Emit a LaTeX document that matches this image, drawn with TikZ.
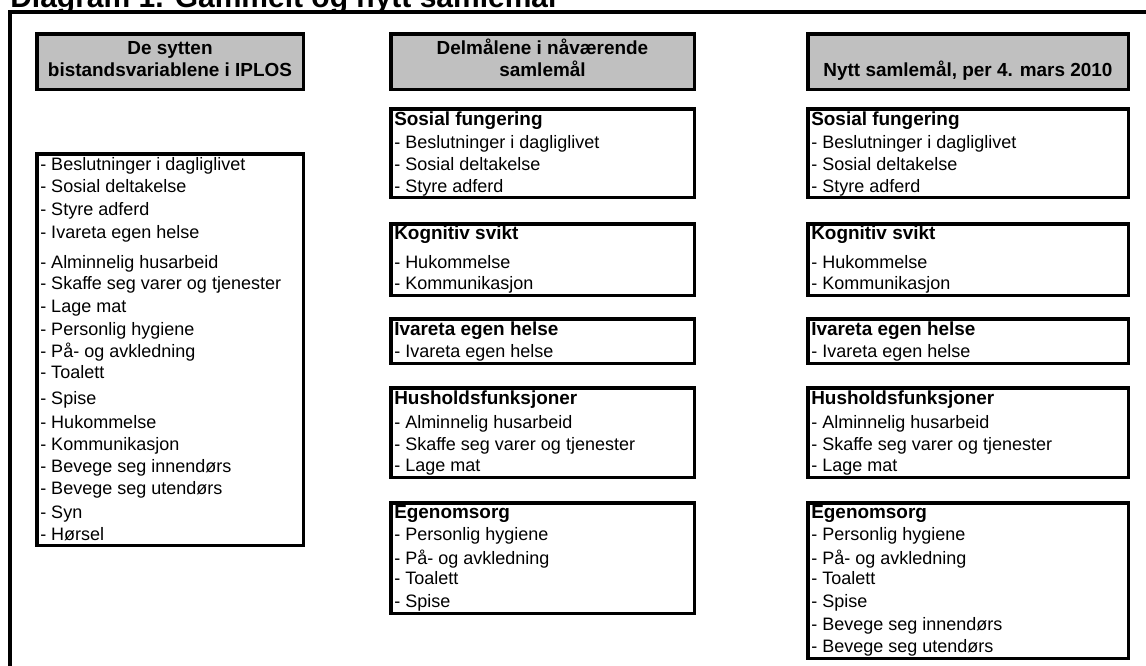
\documentclass[tikz,border=0pt]{standalone}
\usepackage{fontspec}
\setmainfont{Liberation Sans}
\definecolor{hdrgray}{HTML}{C0C0C0}
\tikzset{
  boxst/.style={draw=black, line width=2.625pt, inner sep=0pt, outer sep=0pt},
  txt/.style={anchor=base west, inner sep=0pt, font=\fontsize{13.5}{16}\selectfont},
  btxt/.style={anchor=base west, inner sep=0pt, font=\bfseries\fontsize{14.2}{17}\selectfont},
  htxt/.style={anchor=base, inner sep=0pt, font=\bfseries\fontsize{14.2}{17}\selectfont},
}
% box from outer corner (x1,y1) to outer corner (x2,y2), in pixels
\newcommand\mybox[6]{\node[boxst, fill=#6,
  minimum width={(#4-#2-3.5)*0.75pt}, minimum height={(#5-#3-3.5)*0.75pt}]
  (#1) at ({(#2+#4)/2},{(#3+#5)/2}) {};}
\newcommand\tl[4]{\node[txt] (#1) at (#2,#3) {#4};}
\newcommand\bl[4]{\node[btxt] (#1) at (#2,#3) {#4};}
\begin{document}
\begin{tikzpicture}[x=0.75pt,y=-0.75pt]
\useasboundingbox (0,0) rectangle (1146,665);
\clip (0,0) rectangle (1146,665);
\fill[white] (0,0) rectangle (1146,665);
% title (cut off at the top)
\node[anchor=base west, inner sep=0pt, font=\bfseries\fontsize{22.5}{27}\selectfont] (title) at (10,7) {Diagram 1. Gammelt og nytt samlemål};
% outer frame
\draw[line width=2.625pt] (1160,12) -- (10,12) -- (10,680);
% header boxes
\mybox{h1}{35}{32}{305}{91}{hdrgray}
\mybox{h2}{389}{32}{696}{91}{hdrgray}
\mybox{h3}{806}{32}{1130}{91}{hdrgray}
\node[htxt] (h1a) at (170,54) {De sytten};
\node[htxt] (h1b) at (170,76) {bistandsvariablene i IPLOS};
\node[htxt] (h2a) at (542.5,54) {Delmålene i nåværende};
\node[htxt] (h2b) at (542.5,76) {samlemål};
\node[htxt] (h3a) at (968,76) {Nytt samlemål, per 4. mars 2010};
% left list
\mybox{lbox}{35}{152}{305}{547}{white}
\tl{l1}{40}{170}{- Beslutninger i dagliglivet}
\tl{l2}{40}{192}{- Sosial deltakelse}
\tl{l3}{40}{215}{- Styre adferd}
\tl{l4}{40}{238}{- Ivareta egen helse}
\tl{l5}{40}{268}{- Alminnelig husarbeid}
\tl{l6}{40}{289}{- Skaffe seg varer og tjenester}
\tl{l7}{40}{312}{- Lage mat}
\tl{l8}{40}{335}{- Personlig hygiene}
\tl{l9}{40}{357}{- På- og avkledning}
\tl{l10}{40}{378}{- Toalett}
\tl{l11}{40}{404}{- Spise}
\tl{l12}{40}{428}{- Hukommelse}
\tl{l13}{40}{450}{- Kommunikasjon}
\tl{l14}{40}{472}{- Bevege seg innendørs}
\tl{l15}{40}{494}{- Bevege seg utendørs}
\tl{l16}{40}{518}{- Syn}
\tl{l17}{40}{540}{- Hørsel}
% middle column
\mybox{m1}{389}{107}{696}{199}{white}
\bl{m1t}{394}{125}{Sosial fungering}
\tl{m1a}{394}{148}{- Beslutninger i dagliglivet}
\tl{m1b}{394}{170}{- Sosial deltakelse}
\tl{m1c}{394}{192}{- Styre adferd}
\mybox{m2}{389}{222}{696}{297}{white}
\bl{m2t}{394}{239}{Kognitiv svikt}
\tl{m2a}{394}{268}{- Hukommelse}
\tl{m2b}{394}{289}{- Kommunikasjon}
\mybox{m3}{389}{317}{696}{365}{white}
\bl{m3t}{394}{335}{Ivareta egen helse}
\tl{m3a}{394}{357}{- Ivareta egen helse}
\mybox{m4}{389}{386}{696}{479}{white}
\bl{m4t}{394}{404}{Husholdsfunksjoner}
\tl{m4a}{394}{428}{- Alminnelig husarbeid}
\tl{m4b}{394}{450}{- Skaffe seg varer og tjenester}
\tl{m4c}{394}{471}{- Lage mat}
\mybox{m5}{389}{501}{696}{615}{white}
\bl{m5t}{394}{518}{Egenomsorg}
\tl{m5a}{394}{540}{- Personlig hygiene}
\tl{m5b}{394}{564}{- På- og avkledning}
\tl{m5c}{394}{584}{- Toalett}
\tl{m5d}{394}{607}{- Spise}
% right column
\mybox{r1}{806}{107}{1130}{199}{white}
\bl{r1t}{811}{125}{Sosial fungering}
\tl{r1a}{811}{148}{- Beslutninger i dagliglivet}
\tl{r1b}{811}{170}{- Sosial deltakelse}
\tl{r1c}{811}{192}{- Styre adferd}
\mybox{r2}{806}{222}{1130}{297}{white}
\bl{r2t}{811}{239}{Kognitiv svikt}
\tl{r2a}{811}{268}{- Hukommelse}
\tl{r2b}{811}{289}{- Kommunikasjon}
\mybox{r3}{806}{317}{1130}{365}{white}
\bl{r3t}{811}{335}{Ivareta egen helse}
\tl{r3a}{811}{357}{- Ivareta egen helse}
\mybox{r4}{806}{386}{1130}{479}{white}
\bl{r4t}{811}{404}{Husholdsfunksjoner}
\tl{r4a}{811}{428}{- Alminnelig husarbeid}
\tl{r4b}{811}{450}{- Skaffe seg varer og tjenester}
\tl{r4c}{811}{471}{- Lage mat}
\mybox{r5}{806}{501}{1130}{660}{white}
\bl{r5t}{811}{518}{Egenomsorg}
\tl{r5a}{811}{540}{- Personlig hygiene}
\tl{r5b}{811}{564}{- På- og avkledning}
\tl{r5c}{811}{584}{- Toalett}
\tl{r5d}{811}{607}{- Spise}
\tl{r5e}{811}{630}{- Bevege seg innendørs}
\tl{r5f}{811}{652}{- Bevege seg utendørs}
\end{tikzpicture}
\end{document}
